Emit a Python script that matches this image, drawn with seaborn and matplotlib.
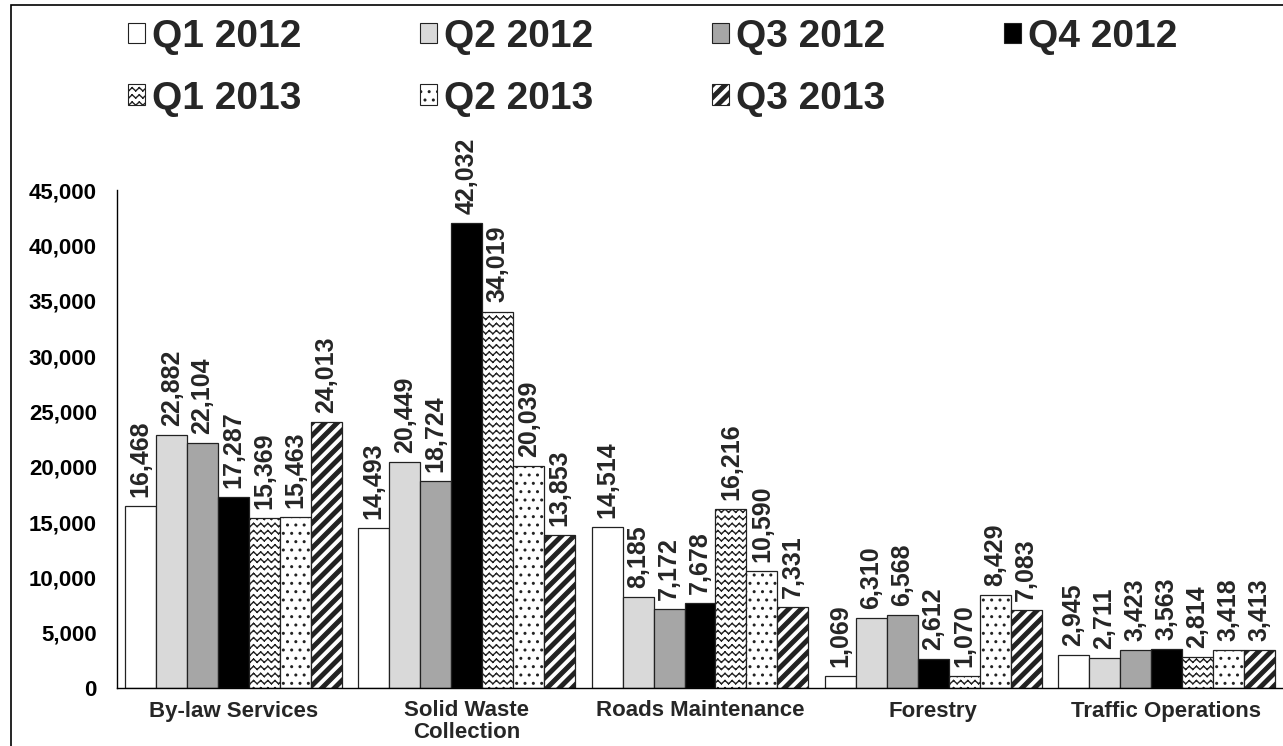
import numpy as np
import pandas as pd
import matplotlib
matplotlib.use("Agg")
import matplotlib.pyplot as plt
import matplotlib.hatch as mhatch
from matplotlib.path import Path
from matplotlib.patches import Patch, Rectangle
from matplotlib.ticker import FuncFormatter, FixedLocator, NullFormatter
import seaborn as sns

# ---- data -------------------------------------------------------------
categories = ["By-law Services", "Solid Waste\nCollection", "Roads Maintenance",
              "Forestry", "Traffic Operations"]
quarters = ["Q1 2012", "Q2 2012", "Q3 2012", "Q4 2012",
            "Q1 2013", "Q2 2013", "Q3 2013"]
q1_2012 = [16468, 14493, 14514, 1069, 2945]
q2_2012 = [22882, 20449, 8185, 6310, 2711]
q3_2012 = [22104, 18724, 7172, 6568, 3423]
q4_2012 = [17287, 42032, 7678, 2612, 3563]
q1_2013 = [15369, 34019, 16216, 1070, 2814]
q2_2013 = [15463, 20039, 10590, 8429, 3418]
q3_2013 = [24013, 13853, 7331, 7083, 3413]
y_ticks = list(range(0, 45001, 5000))

series = [q1_2012, q2_2012, q3_2012, q4_2012, q1_2013, q2_2013, q3_2013]
face_colors = ["white", "#D9D9D9", "#A6A6A6", "black", "white", "white", "white"]
hatches = [None, None, None, None, "z", "..", "s"]


# ---- extra hatch patterns: zigzag rows ('z') and thick diagonal stripes ('s')
class ZigzagHatch(mhatch.HatchPatternBase):
    rows = 14
    teeth = 14
    amp = 0.016

    def __init__(self, hatch, density):
        self.active = "z" in hatch
        self.num_vertices = self.rows * self.teeth * 4 if self.active else 0

    def set_vertices_and_codes(self, vertices, codes):
        n = 2 * self.teeth
        xs = np.linspace(0.0, 1.0, n + 1)
        k = 0
        for r in range(self.rows):
            y0 = (r + 0.5) / self.rows
            ys = y0 + np.where(np.arange(n + 1) % 2 == 0, -self.amp, self.amp)
            for j in range(n):
                vertices[k] = (xs[j], ys[j])
                vertices[k + 1] = (xs[j + 1], ys[j + 1])
                codes[k] = Path.MOVETO
                codes[k + 1] = Path.LINETO
                k += 2


class StripeHatch(mhatch.HatchPatternBase):
    lines = 8
    thick = 0.05

    def __init__(self, hatch, density):
        self.active = "s" in hatch
        self.count = 2 * self.lines + 1
        self.num_vertices = self.count * 5 if self.active else 0

    def set_vertices_and_codes(self, vertices, codes):
        k = 0
        for i in range(-self.lines, self.lines + 1):
            c = i / self.lines
            t = self.thick
            vertices[k:k + 5] = [(-0.5, -0.5 + c), (1.5, 1.5 + c),
                                 (1.5, 1.5 + c + t), (-0.5, -0.5 + c + t),
                                 (-0.5, -0.5 + c)]
            codes[k:k + 5] = [Path.MOVETO, Path.LINETO, Path.LINETO,
                              Path.LINETO, Path.CLOSEPOLY]
            k += 5


mhatch._hatch_types.extend([ZigzagHatch, StripeHatch])
mhatch._validate_hatch_pattern = lambda hatch: None

# ---- style ------------------------------------------------------------
sns.set_style("white")
plt.rcParams["font.family"] = ["Liberation Sans", "DejaVu Sans"]
plt.rcParams["font.weight"] = "bold"
plt.rcParams["hatch.color"] = "black"
plt.rcParams["hatch.linewidth"] = 1.0

W, H = 1283, 746
fig = plt.figure(figsize=(W / 100, H / 100), dpi=100)
ax = fig.add_axes([117 / W, (H - 688) / H, (W - 117) / W, (688 - 190) / H])

rows = [(cat, q, v) for q, vals in zip(quarters, series)
        for cat, v in zip(categories, vals)]
df = pd.DataFrame(rows, columns=["Area", "Quarter", "Requests"])

sns.barplot(data=df, x="Area", y="Requests", hue="Quarter",
            order=categories, hue_order=quarters,
            palette=face_colors, saturation=1, width=0.93, gap=0,
            edgecolor="#222222", linewidth=0.9, legend=False, ax=ax)

for container, h in zip(ax.containers, hatches):
    for bar in container:
        if h:
            bar.set_hatch(h)
    ax.bar_label(container, fmt="{:,.0f}", rotation=90, padding=6.5,
                 fontsize=18, fontweight="bold", clip_on=False)

# ---- axes -------------------------------------------------------------
ax.set_xlim(-0.5, len(categories) - 0.5)
ax.set_ylim(0, 45000)
ax.yaxis.set_major_locator(FixedLocator(y_ticks))
ax.yaxis.set_major_formatter(FuncFormatter(lambda v, p: f"{v:,.0f}"))
ax.tick_params(axis="y", direction="out", length=4.5, width=1, pad=10,
               labelsize=16, colors="black")

ax.xaxis.set_major_locator(FixedLocator(np.arange(-0.5, len(categories), 1.0)))
ax.xaxis.set_major_formatter(NullFormatter())
ax.set_xticks(np.arange(len(categories)), categories, minor=True)
ax.tick_params(axis="x", which="major", direction="out", length=5, width=1)
ax.tick_params(axis="x", which="minor", length=0, pad=9, labelsize=16)
for lbl in ax.get_xticklabels(minor=True):
    lbl.set_linespacing(1.0)
ax.set_xlabel("")
ax.set_ylabel("")

sns.despine(ax=ax, top=True, right=True)
for side in ("left", "bottom"):
    ax.spines[side].set_color("black")
    ax.spines[side].set_linewidth(1)
ax.set_facecolor("white")

# ---- legend (row-major order over four columns) -----------------------
order = [0, 4, 1, 5, 2, 6, 3]
handles = [Patch(facecolor=face_colors[i], edgecolor="#222222", linewidth=0.8,
                 hatch=hatches[i]) for i in order]
labels = [quarters[i] for i in order]
fig.legend(handles, labels, ncol=4, loc="upper left",
           bbox_to_anchor=(128 / W, 1 - 19 / H), frameon=False,
           prop={"size": 28, "weight": "bold"},
           handlelength=0.44, handleheight=0.44, handletextpad=0.18,
           columnspacing=3.05, labelspacing=0.66, borderpad=0, borderaxespad=0)

# ---- outer frame ------------------------------------------------------
fig.add_artist(Rectangle((11 / W, -0.5), 2, 1.5 - 5 / H, transform=fig.transFigure,
                         fill=False, edgecolor="black", linewidth=1.2))

fig.savefig("out.png", dpi=100, facecolor="white")
